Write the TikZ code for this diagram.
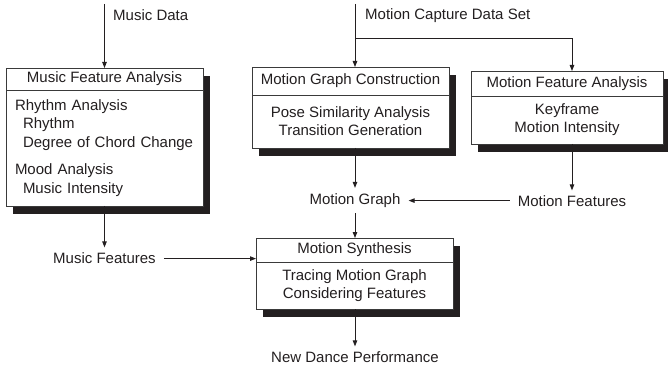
\documentclass[tikz,border=0pt]{standalone}
\usepackage{fontspec}
\setmainfont{Liberation Sans}
\usetikzlibrary{arrows.meta,positioning,shadows}
\definecolor{dmink}{HTML}{231F20}
\definecolor{dmline}{HTML}{3A3A3A}
\tikzset{
  dm text/.style={font=\fontsize{15}{18.5}\selectfont, text=dmink},
  dm shadow/.style={drop shadow={shadow xshift=7pt, shadow yshift=-8pt,
    fill=dmink, opacity=1}},
  dm head/.style={draw=dmline, line width=0.9pt, fill=white, dm shadow,
    inner sep=0pt, outer sep=0pt, anchor=north, align=center},
  dm body/.style={draw=dmline, line width=0.9pt, fill=white, dm shadow,
    inner sep=0pt, outer sep=0pt, align=center, font=\fontsize{15}{18}\selectfont},
  dm arrow/.style={-{Triangle[length=6pt,width=4.5pt]}, line width=0.9pt,
    draw=dmink},
  dm label/.style={inner xsep=8pt, inner ysep=5.5pt}
}

\begin{document}
\begin{tikzpicture}[dm text, x=1pt, y=-1pt]
  \useasboundingbox (0,0) rectangle (668,371);
  \node[dm head, minimum width=197pt, minimum height=22pt] (mfa head) at (104.5,68)
    {Music Feature Analysis};
  \node[dm body, minimum width=197pt, minimum height=116pt, text width=179pt,
    align=left, font=\fontsize{15}{18.5}\selectfont, below=0pt of mfa head] (mfa body)
    {Rhythm Analysis\\
     \hspace*{8pt}Rhythm\\
     \hspace*{8pt}Degree of Chord Change\\[9pt]
     Mood Analysis\\
     \hspace*{8pt}Music Intensity};
  \node[dm head, minimum width=197pt, minimum height=28pt] (mgc head) at (350.5,67)
    {Motion Graph Construction};
  \node[dm body, minimum width=197pt, minimum height=53pt, below=0pt of mgc head]
    (mgc body) {Pose Similarity Analysis\\Transition Generation};
  \node[dm head, minimum width=192pt, minimum height=25pt] (mfe head) at (567,71)
    {Motion Feature Analysis};
  \node[dm body, minimum width=192pt, minimum height=48pt, below=0pt of mfe head]
    (mfe body) {Keyframe\\Motion Intensity};
  \node[dm head, minimum width=197pt, minimum height=24pt] (syn head) at (354.5,238)
    {Motion Synthesis};
  \node[dm body, minimum width=197pt, minimum height=47pt, below=0pt of syn head]
    (syn body) {Tracing Motion Graph\\Considering Features};

  \node[dm label, anchor=west] (musd) at (105,15.6) {Music Data};
  \node[dm label, anchor=west] (mocap) at (357,15.6) {Motion Capture Data Set};
  \node[dm label] (mg) at (355,200.6) {Motion Graph};
  \node[dm label] (mf) at (572,201.6) {Motion Features};
  \node[dm label] (musf) at (104.5,258.6) {Music Features};
  \node[dm label] (ndp) at (355,357.6) {New Dance Performance};

  \coordinate (musd top) at (104.5,4);
  \coordinate (mocap top) at (355,4);
  \coordinate (mocap split) at (355,38);
  \coordinate (mf col) at (572,38);

  \draw[dm arrow] (musd top) -- (musd top |- mfa head.north);
  \draw[dm arrow] (mocap top) -- (mocap top |- mgc head.north);
  \draw[dm arrow] (mocap split) -- (mf col) -- (mf col |- mfe head.north);
  \draw[dm arrow] (mg.north |- mgc body.south) -- (mg.north);
  \draw[dm arrow] (mf.north |- mfe body.south) -- (mf.north);
  \draw[dm arrow] (mf.west |- mg.east) -- (mg.east);
  \draw[dm arrow] (musf.north |- mfa body.south) -- (musf.north);
  \draw[dm arrow] (musf.east) -- (musf.east -| syn head.west);
  \draw[dm arrow] (mg.south) -- (mg.south |- syn head.north);
  \draw[dm arrow] (ndp.north |- syn body.south) -- (ndp.north);
\end{tikzpicture}
\end{document}
